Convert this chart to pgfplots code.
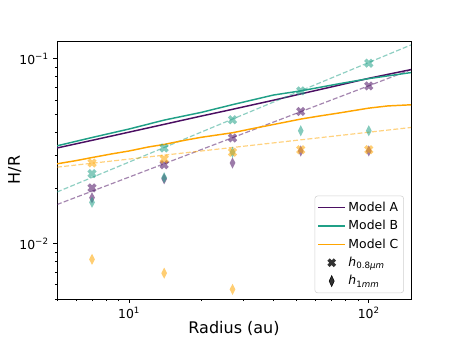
\documentclass[border=0pt]{standalone}
\usepackage{fontspec}
\setmainfont{DejaVu Sans}
\usepackage{pgfplots}
\pgfplotsset{compat=1.18}
\definecolor{modA}{HTML}{4B0F62}
\definecolor{modB}{HTML}{20A087}
\definecolor{modC}{HTML}{FFA500}

% filled "X" marker, like matplotlib's 'X'
\pgfdeclareplotmark{Xf}{%
  \pgfpathmoveto{\pgfqpoint{-0.453\pgfplotmarksize}{0.962\pgfplotmarksize}}%
  \pgfpathlineto{\pgfqpoint{0pt}{0.509\pgfplotmarksize}}%
  \pgfpathlineto{\pgfqpoint{0.453\pgfplotmarksize}{0.962\pgfplotmarksize}}%
  \pgfpathlineto{\pgfqpoint{0.962\pgfplotmarksize}{0.453\pgfplotmarksize}}%
  \pgfpathlineto{\pgfqpoint{0.509\pgfplotmarksize}{0pt}}%
  \pgfpathlineto{\pgfqpoint{0.962\pgfplotmarksize}{-0.453\pgfplotmarksize}}%
  \pgfpathlineto{\pgfqpoint{0.453\pgfplotmarksize}{-0.962\pgfplotmarksize}}%
  \pgfpathlineto{\pgfqpoint{0pt}{-0.509\pgfplotmarksize}}%
  \pgfpathlineto{\pgfqpoint{-0.453\pgfplotmarksize}{-0.962\pgfplotmarksize}}%
  \pgfpathlineto{\pgfqpoint{-0.962\pgfplotmarksize}{-0.453\pgfplotmarksize}}%
  \pgfpathlineto{\pgfqpoint{-0.509\pgfplotmarksize}{0pt}}%
  \pgfpathlineto{\pgfqpoint{-0.962\pgfplotmarksize}{0.453\pgfplotmarksize}}%
  \pgfpathclose
  \pgfusepathqfill}

\pgfplotsset{
  solidfit/.style={line width=1.1pt},
  dashfit/.style={line width=0.9pt, dash pattern=on 3.7pt off 1.7pt, draw opacity=0.5},
  xmk/.style={only marks, mark=Xf, mark size=3.6pt,
              mark options={solid, fill=#1, fill opacity=0.55, draw opacity=0}},
  dmk/.style={only marks, mark=diamond*, mark size=4.2pt,
              mark options={solid, xscale=0.68, fill=#1, fill opacity=0.55, draw opacity=0}},
  linelegend/.style={legend image code/.code={\draw[##1] (0pt,0pt) -- (20pt,0pt);}},
  marklegend/.style={legend image code/.code={\draw[##1] plot coordinates {(10pt,0pt)};}},
}

\begin{document}
\begin{tikzpicture}
\begin{axis}[
  scale only axis, width=265.5pt, height=193.5pt,
  xmode=log, ymode=log,
  xmin=5, xmax=150, ymin=0.005, ymax=0.125,
  axis line style={line width=0.6pt},
  tick pos=left, tick align=outside,
  major tick length=2.7pt, minor tick length=1.6pt,
  every tick/.style={black, line width=0.6pt},
  minor tick style={line width=0.45pt},
  xtick={10,100}, xticklabels={10\textsuperscript{1},10\textsuperscript{2}},
  minor xtick={5,6,7,8,9,20,30,40,50,60,70,80,90},
  ytick={0.01,0.1}, yticklabels={10\textsuperscript{−2},10\textsuperscript{−1}},
  minor ytick={0.005,0.006,0.007,0.008,0.009,0.02,0.03,0.04,0.05,0.06,0.07,0.08,0.09},
  tick label style={font=\fontsize{9.3}{11}\selectfont},
  xlabel={Radius (au)}, ylabel={H/R},
  label style={font=\fontsize{12}{14}\selectfont},
  xlabel style={at={(axis description cs:0.5,-0.116)}, anchor=center},
  ylabel style={at={(axis description cs:-0.119,0.5)}, anchor=center},
  legend cell align=left,
  legend style={at={(axis description cs:0.98,0.023)}, anchor=south east,
    draw=black!18, rounded corners=2pt, fill=white, fill opacity=0.8, text opacity=1,
    font=\fontsize{9.3}{11}\selectfont, row sep=1.2pt, inner xsep=2pt, inner ysep=2.5pt},
]
% Model A
\addplot[modA, solidfit, forget plot] coordinates {
  (5,0.0329) (7,0.0362) (10,0.0401) (14,0.0442) (20,0.0490) (27,0.0533)
  (40,0.0597) (52,0.0646) (75,0.0720) (100,0.0785) (150,0.0875)};
\addplot[modA, dashfit, forget plot] coordinates {(5,0.01625) (150,0.0874)};
\addplot[xmk=modA, forget plot] coordinates {
  (7,0.0200) (14,0.0267) (27,0.0373) (52,0.0519) (100,0.0714)};
\addplot[dmk=modA, forget plot] coordinates {
  (7,0.0177) (14,0.0224) (27,0.0273) (52,0.0317) (100,0.0317)};
% Model B
\addplot[modB, solidfit, forget plot] coordinates {
  (5,0.0338) (7,0.0375) (10,0.0417) (14,0.0466) (20,0.0513) (27,0.0565)
  (40,0.0637) (52,0.0671) (75,0.0733) (100,0.0782) (150,0.0843)};
\addplot[modB, dashfit, forget plot] coordinates {(5,0.0190) (150,0.119)};
\addplot[xmk=modB, forget plot] coordinates {
  (7,0.0239) (14,0.0329) (27,0.0468) (52,0.0671) (100,0.0948)};
\addplot[dmk=modB, forget plot] coordinates {
  (7,0.0167) (14,0.0227) (27,0.0312) (52,0.0408) (100,0.0408)};
% Model C
\addplot[modC, solidfit, forget plot] coordinates {
  (5,0.0270) (6,0.0281) (7,0.0292) (8.5,0.0306) (10,0.0317) (12,0.0333) (14,0.0344)
  (17,0.0362) (20,0.0376) (27,0.0398) (33,0.0420) (40,0.0441) (52,0.0472)
  (62,0.0490) (75,0.0509) (100,0.0541) (120,0.0556) (150,0.0564)};
\addplot[modC, dashfit, forget plot] coordinates {(5,0.0259) (150,0.0425)};
\addplot[xmk=modC, forget plot] coordinates {
  (7,0.0273) (14,0.0287) (27,0.0312) (52,0.0322) (100,0.0322)};
\addplot[dmk=modC, forget plot] coordinates {
  (7,0.0082) (14,0.0069) (27,0.00564)};
% legend
\addlegendimage{modA, line width=1.2pt, linelegend}
\addlegendentry{Model A}
\addlegendimage{modB, line width=1.2pt, linelegend}
\addlegendentry{Model B}
\addlegendimage{modC, line width=1.2pt, linelegend}
\addlegendentry{Model C}
\addlegendimage{only marks, mark=Xf, mark size=3.4pt, black, marklegend}
\addlegendentry{\textit{h}\textsubscript{0.8\textit{μm}}}
\addlegendimage{only marks, mark=diamond*, mark size=4.1pt, mark options={xscale=0.62}, black, marklegend}
\addlegendentry{\textit{h}\textsubscript{1\textit{mm}}}
\end{axis}
\pgfresetboundingbox
\path (current axis.south west) ++(-42.75pt,-33pt) rectangle ++(342.75pt,257.25pt);
\end{tikzpicture}
\end{document}
